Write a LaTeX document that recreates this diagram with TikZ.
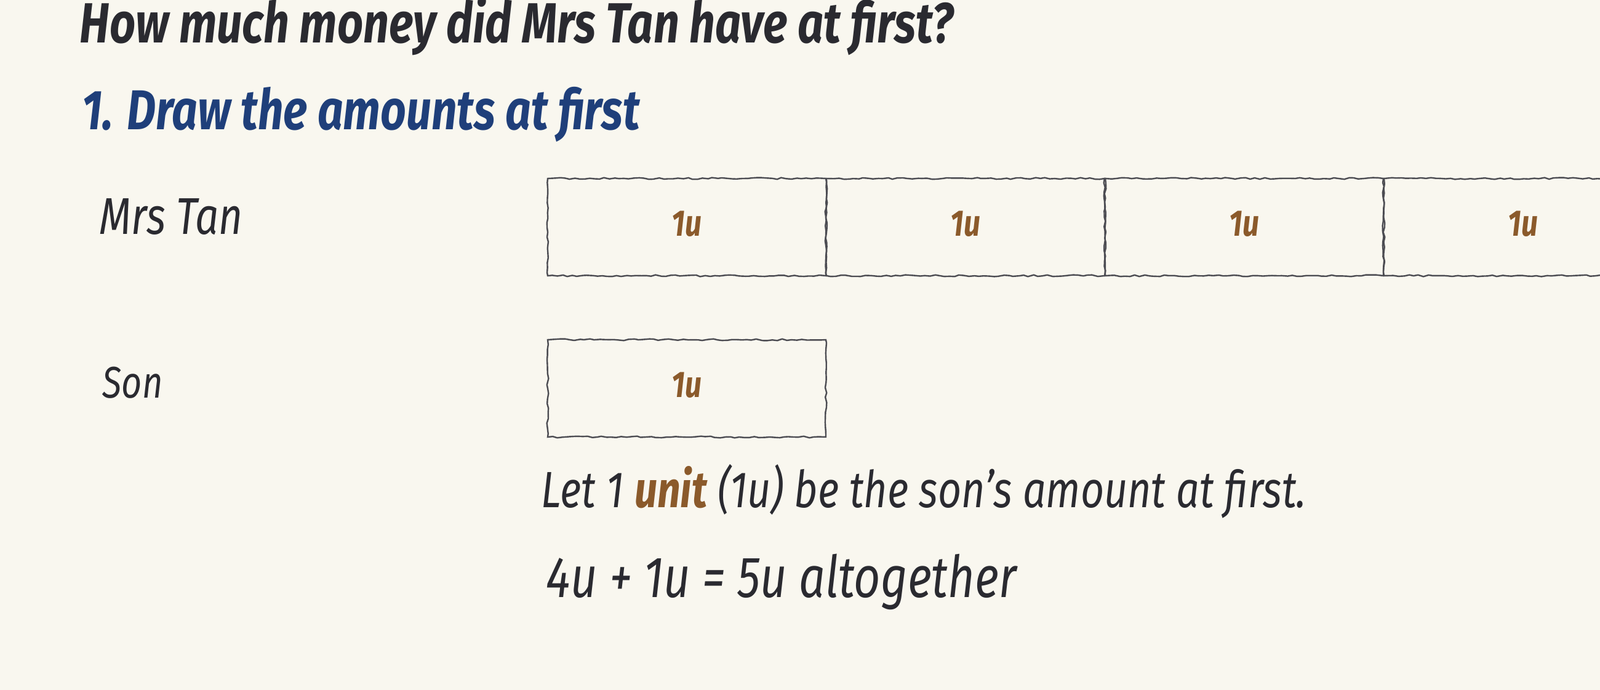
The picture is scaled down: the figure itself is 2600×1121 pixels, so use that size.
\documentclass[tikz,border=0pt]{standalone}
\usepackage{fontspec}
\setmainfont{Fira Sans}[FakeStretch=0.8]
\usetikzlibrary{decorations.pathmorphing}
\definecolor{paper}{HTML}{F9F7EF}
\definecolor{ink}{HTML}{2A2A30}
\definecolor{headblue}{HTML}{1F3F7A}
\definecolor{unitbrown}{HTML}{8B5A2B}
\definecolor{pencil}{HTML}{4C4C52}
\begin{document}
\begin{tikzpicture}[x=0.25pt, y=-0.25pt,
  txt/.style={inner sep=0pt, anchor=base west, text=ink, font=\itshape},
  unitbox/.style={draw=pencil, line width=0.6pt, minimum width=113pt, minimum height=39.5pt,
    inner sep=0pt, text depth=3pt, text=unitbrown, font=\itshape\bfseries\fontsize{15pt}{17pt}\selectfont,
    decorate, decoration={random steps, segment length=2pt, amplitude=0.35pt}}]
\fill[paper] (0,0) rectangle (2600,1121);
\clip (0,0) rectangle (2600,1121);

% Question and step heading
\node[txt, font=\itshape\bfseries\fontsize{23pt}{27pt}\selectfont] (question) at (129,70) {How much money did Mrs Tan have at first?};
\node[txt, text=headblue, font=\itshape\bfseries\fontsize{22.8pt}{27pt}\selectfont] (step) at (133,211) {1. Draw the amounts at first};

% Names
\node[txt, font=\itshape\fontsize{21pt}{25pt}\selectfont] (tanlabel) at (161,381) {Mrs Tan};
\node[txt, font=\itshape\fontsize{18pt}{22pt}\selectfont] (sonlabel) at (166,647) {Son};

% Mrs Tan's units
\foreach \i in {1,...,4}
  \node[unitbox] (tan\i) at (1116+453*\i-453,369) {1u};

% Son's unit
\node[unitbox] (son1) at (1116,631) {1u};

% Working
\node[txt, font=\itshape\fontsize{20.7pt}{24pt}\selectfont] (letunit) at (879,824)
  {Let 1 {\bfseries\color{unitbrown}unit} (1u) be the son's amount at first.};
\node[txt, font=\itshape\fontsize{23.5pt}{27pt}\selectfont] (total) at (887,970) {4u + 1u = 5u altogether};
\end{tikzpicture}
\end{document}
